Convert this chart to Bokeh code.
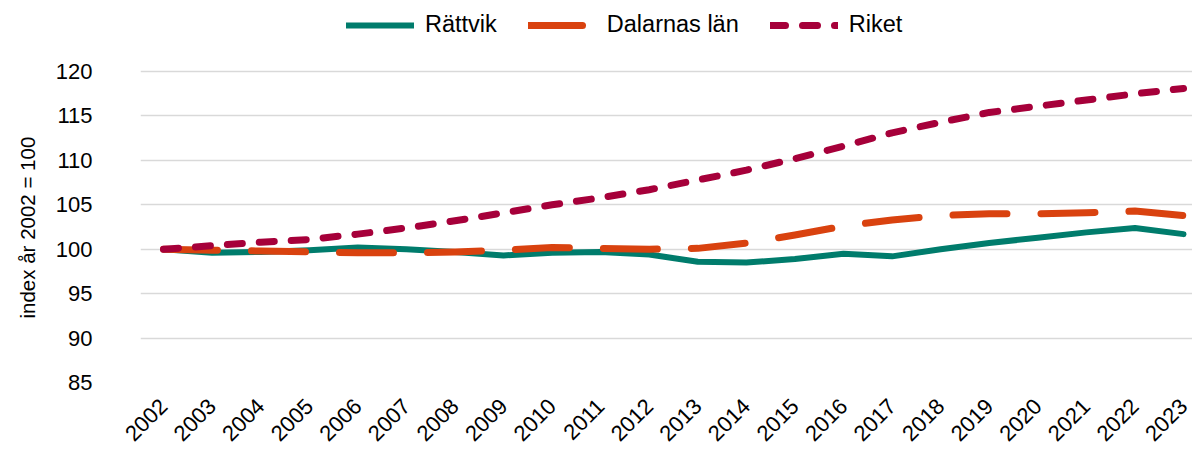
import math
from bokeh.plotting import figure
from bokeh.models import Range1d, FixedTicker, Legend, LegendItem, Title
from bokeh.embed import file_html
from bokeh.resources import INLINE

years = list(range(2002, 2024))
year_labels = [str(y) for y in years]
rattvik = [100.0, 99.6, 99.7, 99.9, 100.2, 100.0, 99.7, 99.3, 99.6, 99.7, 99.4,
           98.6, 98.5, 98.9, 99.5, 99.2, 100.0, 100.7, 101.3, 101.9, 102.4, 101.7]
dalarna = [100.0, 99.9, 99.8, 99.7, 99.6, 99.6, 99.7, 99.9, 100.2, 100.1, 100.0,
           100.1, 100.7, 101.6, 102.6, 103.3, 103.8, 104.0, 104.0, 104.1, 104.3, 103.8]
riket = [100.0, 100.4, 100.8, 101.1, 101.7, 102.4, 103.2, 104.1, 105.0, 105.8, 106.7,
         107.8, 108.9, 110.2, 111.6, 113.1, 114.3, 115.4, 116.1, 116.8, 117.5, 118.1]
y_ticks = [85, 90, 95, 100, 105, 110, 115, 120]
series_names = ["Rättvik", "Dalarnas län", "Riket"]
y_title = "index år 2002 = 100"

FONT = "Liberation Sans"
GREEN = "#007C6C"
ORANGE = "#D9420F"
RED = "#A6003A"

# frame spans the full height above the x labels; top area hosts the legend
p = figure(width=1192, height=450, output_backend="svg", toolbar_location=None,
           x_range=Range1d(2001.526, 2023.185), y_range=Range1d(85, 128.0),
           min_border_left=140, min_border_right=0, min_border_top=0,
           min_border_bottom=0)
p.outline_line_color = None
p.background_fill_color = "white"
p.border_fill_color = "white"
p.xgrid.visible = False
p.ygrid.grid_line_color = "#d9d9d9"
p.ygrid.grid_line_width = 1.3

p.yaxis.ticker = FixedTicker(ticks=y_ticks)
p.xaxis.ticker = FixedTicker(ticks=years)
p.xaxis.major_label_overrides = {y: lab for y, lab in zip(years, year_labels)}
p.xaxis.major_label_orientation = math.pi / 4

for ax in (p.xaxis[0], p.yaxis[0]):
    ax.axis_line_color = None
    ax.major_tick_line_color = None
    ax.minor_tick_line_color = None
    ax.major_tick_out = 0
    ax.major_label_text_font = FONT
    ax.major_label_text_color = "#000000"

p.xaxis.major_label_text_font_size = "22px"
p.yaxis.major_label_text_font_size = "22px"
p.xaxis.major_label_standoff = 20
p.yaxis.major_label_standoff = 48

p.add_layout(Title(text=y_title, align="left", offset=64, standoff=27,
                   text_font=FONT, text_font_size="20.5px", text_font_style="normal",
                   text_color="#000000"), "left")

r1 = p.line(years, rattvik, line_color=GREEN, line_width=6,
            line_join="round", line_cap="round")
r2 = p.line(years, dalarna, line_color=ORANGE, line_width=7,
            line_dash="54 34", line_join="round", line_cap="round")
r3 = p.line(years, riket, line_color=RED, line_width=7,
            line_dash="15 17", line_join="round", line_cap="round")

legend = Legend(items=[LegendItem(label=series_names[0], renderers=[r1]),
                       LegendItem(label=series_names[1], renderers=[r2]),
                       LegendItem(label=series_names[2], renderers=[r3])],
                orientation="horizontal", location=(206, 344),
                label_text_font=FONT, label_text_font_size="23.5px",
                label_text_color="#000000", glyph_width=68, glyph_height=20,
                label_height=20, label_standoff=11, spacing=31, padding=0,
                margin=0, border_line_color=None, background_fill_alpha=0)
p.add_layout(legend)

open("out.html", "w").write(file_html(p, INLINE))
